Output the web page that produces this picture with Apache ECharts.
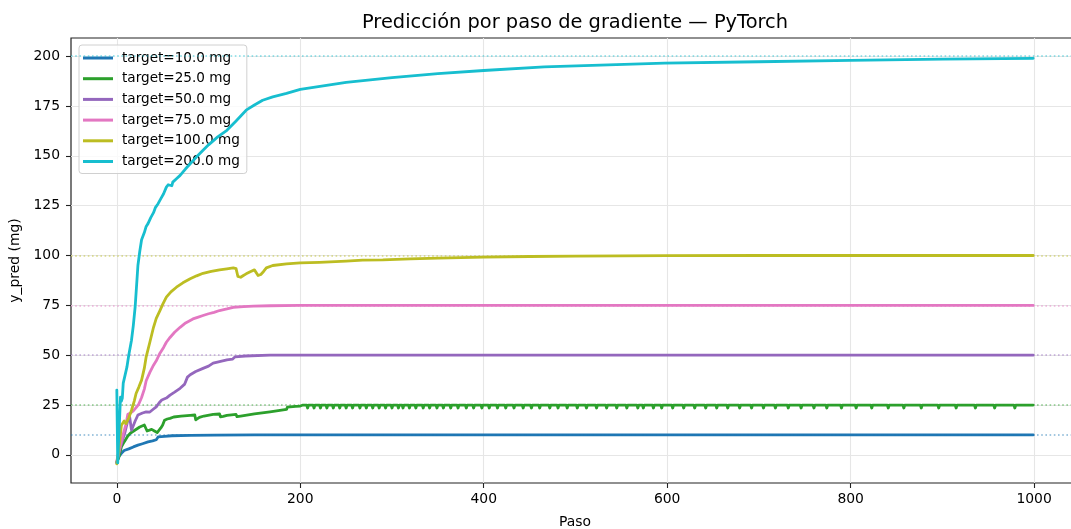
<!DOCTYPE html>
<html>
<head>
<meta charset="utf-8">
<script src="https://cdn.jsdelivr.net/npm/echarts@6/dist/echarts.min.js"></script>
<style>html,body{margin:0;padding:0;background:#fff}#c{width:1071px;height:529px}</style>
</head>
<body>
<div id="c"></div>
<script>
const targets = [10, 25, 50, 75, 100, 200];
const names = ['target=10.0 mg','target=25.0 mg','target=50.0 mg','target=75.0 mg','target=100.0 mg','target=200.0 mg'];
const colors = ['#1f77b4','#2ca02c','#9467bd','#e377c2','#bcbd22','#17becf'];
const xTicks = [0, 200, 400, 600, 800, 1000];
const yTicks = [0, 25, 50, 75, 100, 125, 150, 175, 200];

const blue = [[0,-4],[2,-1],[5,0.8],[8,2.2],[13,3],[18,4],[23,4.9],[28,5.6],[34,6.5],[39,7],[43,7.6],[45,9],[52,9.3],[60,9.6],[80,9.8],[107,9.9],[150,10],[999,10]];
const greenEarly = [[0,-3.5],[2,-1.5],[5,4],[8,6.5],[12,9.5],[15,11],[20,12.5],[25,14],[30,15],[32,15.4],[33,12],[35,11.5],[38,12.8],[41,12],[44,11.2],[46,10.2],[48,13.5],[50,15],[52,17.4],[55,18],[58,18.3],[62,19],[70,19.4],[80,19.8],[85,20],[86,17.6],[90,18.8],[95,19.5],[105,20.3],[112,20.5],[113,19.1],[116,19.3],[120,19.8],[130,20.3],[131,19.2],[135,19.5],[150,20.6],[167,21.6],[185,22.8],[186,24],[195,24.3],[200,24.5],[201,25]];
const greenDips = [202,208,215,222,229,236,243,250,257,265,272,279,286,293,300,307,312,319,326,334,341,349,356,364,372,381,389,398,406,415,424,433,443,452,461,472,481,491,502,512,523,534,545,556,568,574,585,594,606,618,630,642,654,666,679,692,705,718,732,746,760,774,790,806,823,841,858,877,896,915,936,957,979];
const greenFlat = 25, greenDip = 23.5, greenEnd = 999;
const purple = [[0,-4],[3,2.4],[6,7],[9,11.5],[12,17.4],[14,19],[16,12.4],[18,11.8],[20,17],[23,20],[28,21],[32,21.6],[36,21.5],[40,23],[43,24.1],[46,26],[49,27.5],[54,28.5],[58,30],[63,31.5],[69,33.4],[74,35.5],[76,36.5],[77,39],[80,40.2],[86,41.8],[94,43.4],[100,44.5],[105,46],[112,46.8],[120,47.6],[126,48],[129,49.2],[140,49.6],[167,50],[999,50]];
const pink = [[0,-3],[3,3],[7,10.4],[10,15.4],[12,20.4],[15,21],[18,22.1],[21,23.7],[24,25.5],[27,28.8],[30,33],[32,37.2],[36,41.4],[40,45],[43,47.2],[47,51],[51,53.9],[54,56.5],[58,58.9],[63,61.5],[69,64],[75,66.2],[83,68.2],[88,69],[94,69.9],[100,70.8],[106,71.5],[112,72.4],[120,73.2],[127,74],[138,74.4],[149,74.6],[167,74.8],[200,75],[999,75]];
const olive = [[0,-4.5],[2,2],[5,14.9],[8,17],[10,15.7],[13,18.5],[16,22.4],[19,27],[21,30.8],[24,34],[27,37.5],[30,43.5],[32,49.2],[36,56.5],[40,64],[43,68.5],[47,72.4],[50,75.5],[54,79.1],[59,81.8],[65,84.1],[72,86.3],[80,88.3],[87,89.8],[94,91.1],[103,92],[112,92.8],[120,93.3],[127,93.8],[130,93.4],[132,89.5],[135,89.1],[138,90],[141,90.8],[146,92],[150,92.8],[152,92.5],[154,90],[157,90.5],[160,92],[163,93.8],[170,95],[185,95.8],[200,96.3],[221,96.6],[250,97.2],[268,97.7],[270,97.3],[290,97.8],[305,98.1],[307,97.8],[320,98.3],[350,98.7],[400,99.2],[450,99.5],[500,99.7],[600,99.9],[700,100],[999,100]];
const cyan = [[0,32.5],[1,-4],[2,8],[3,18],[4,29],[5,27],[6,28.5],[7,36],[9,40],[11,44],[13,50],[15,55],[16,57.5],[18,65],[20,74.3],[22,88],[23,95],[25,102],[27,107.9],[30,111.5],[32,114.6],[34,116],[37,119],[40,121.5],[42,124],[45,126],[48,128.5],[51,131],[54,134.3],[56,135.5],[58,135.7],[60,135],[61,136.8],[63,137],[65,138.5],[67,138],[69,140.2],[75,143.5],[80,146],[87,149.5],[94,152.8],[100,155.5],[110,159.5],[120,162.8],[130,167.5],[141,172.9],[150,175.5],[159,177.9],[170,179.6],[185,181.3],[200,183.3],[250,186.8],[300,189.2],[350,191.2],[400,192.8],[466,194.6],[467,195.5],[597,196.5],[598,196.1],[700,197.2],[800,197.9],[900,198.5],[999,198.9]];

function buildGreen() {
  const pts = greenEarly.slice();
  greenDips.forEach(d => { pts.push([d - 1, greenFlat], [d, greenDip], [d + 1, greenFlat]); });
  pts.push([greenEnd, greenFlat]);
  return pts;
}
const seriesData = [blue, buildGreen(), purple, pink, olive, cyan];

const FONT = 'DejaVu Sans';
const chart = echarts.init(document.getElementById('c'), null, {renderer: 'canvas'});
chart.setOption({
  animation: false,
  backgroundColor: '#fff',
  title: {
    text: 'Predicción por paso de gradiente — PyTorch',
    left: 575, top: 13, textAlign: 'center', padding: 0,
    textStyle: {fontFamily: FONT, fontSize: 19.4, fontWeight: 'normal', color: '#000'}
  },
  grid: {left: 71, top: 38, width: 1008, bottom: 46, show: true, borderColor: '#222', borderWidth: 1.2,
         containLabel: false, outerBoundsMode: 'none'},
  legend: {
    orient: 'vertical', left: 79, top: 45,
    data: names,
    icon: 'rect', itemWidth: 30, itemHeight: 3, itemGap: 6.7,
    padding: [6, 7, 5, 4],
    backgroundColor: 'rgba(255,255,255,0.8)', borderColor: '#d0d0d0', borderWidth: 1, borderRadius: 3,
    textStyle: {fontFamily: FONT, fontSize: 13.6, color: '#000', lineHeight: 14, padding: [0, 0, 0, 4]},
    selectedMode: false
  },
  xAxis: {
    type: 'value', min: -49.95, max: 1048.95,
    name: 'Paso', nameLocation: 'middle', nameGap: 32,
    nameTextStyle: {fontFamily: FONT, fontSize: 13.9, color: '#000'},
    axisLine: {show: false, onZero: false},
    axisTick: {show: true, length: 5, lineStyle: {color: '#222', width: 1.1}, customValues: xTicks},
    axisLabel: {fontFamily: FONT, fontSize: 13.9, color: '#000', margin: 9, customValues: xTicks,
                formatter: v => String(v)},
    splitLine: {show: true, lineStyle: {color: '#e6e6e6', width: 1.1}}
  },
  yAxis: {
    type: 'value', min: -14.1, max: 209.1,
    name: 'y_pred (mg)', nameLocation: 'middle', nameGap: 47,
    nameTextStyle: {fontFamily: FONT, fontSize: 13.9, color: '#000'},
    axisLine: {show: false, onZero: false},
    axisTick: {show: true, length: 5, lineStyle: {color: '#222', width: 1.1}, customValues: yTicks},
    axisLabel: {fontFamily: FONT, fontSize: 13.9, color: '#000', margin: 11, customValues: yTicks,
                formatter: v => String(v)},
    splitLine: {show: true, lineStyle: {color: '#e6e6e6', width: 1.1}}
  },
  series: seriesData.map((d, i) => ({
    name: names[i], type: 'line', data: d, showSymbol: false, symbol: 'none', sampling: 'none',
    lineStyle: {color: colors[i], width: 2.8, cap: 'round', join: 'round'},
    itemStyle: {color: colors[i]},
    emphasis: {disabled: true}, silent: true, z: 3 + i,
    markLine: {
      silent: true, symbol: ['none', 'none'], label: {show: false}, animation: false,
      lineStyle: {color: colors[i], type: [1.6, 2.6], width: 1.5, opacity: 0.55},
      emphasis: {disabled: true},
      data: [{yAxis: targets[i]}]
    }
  }))
});
</script>
</body>
</html>
